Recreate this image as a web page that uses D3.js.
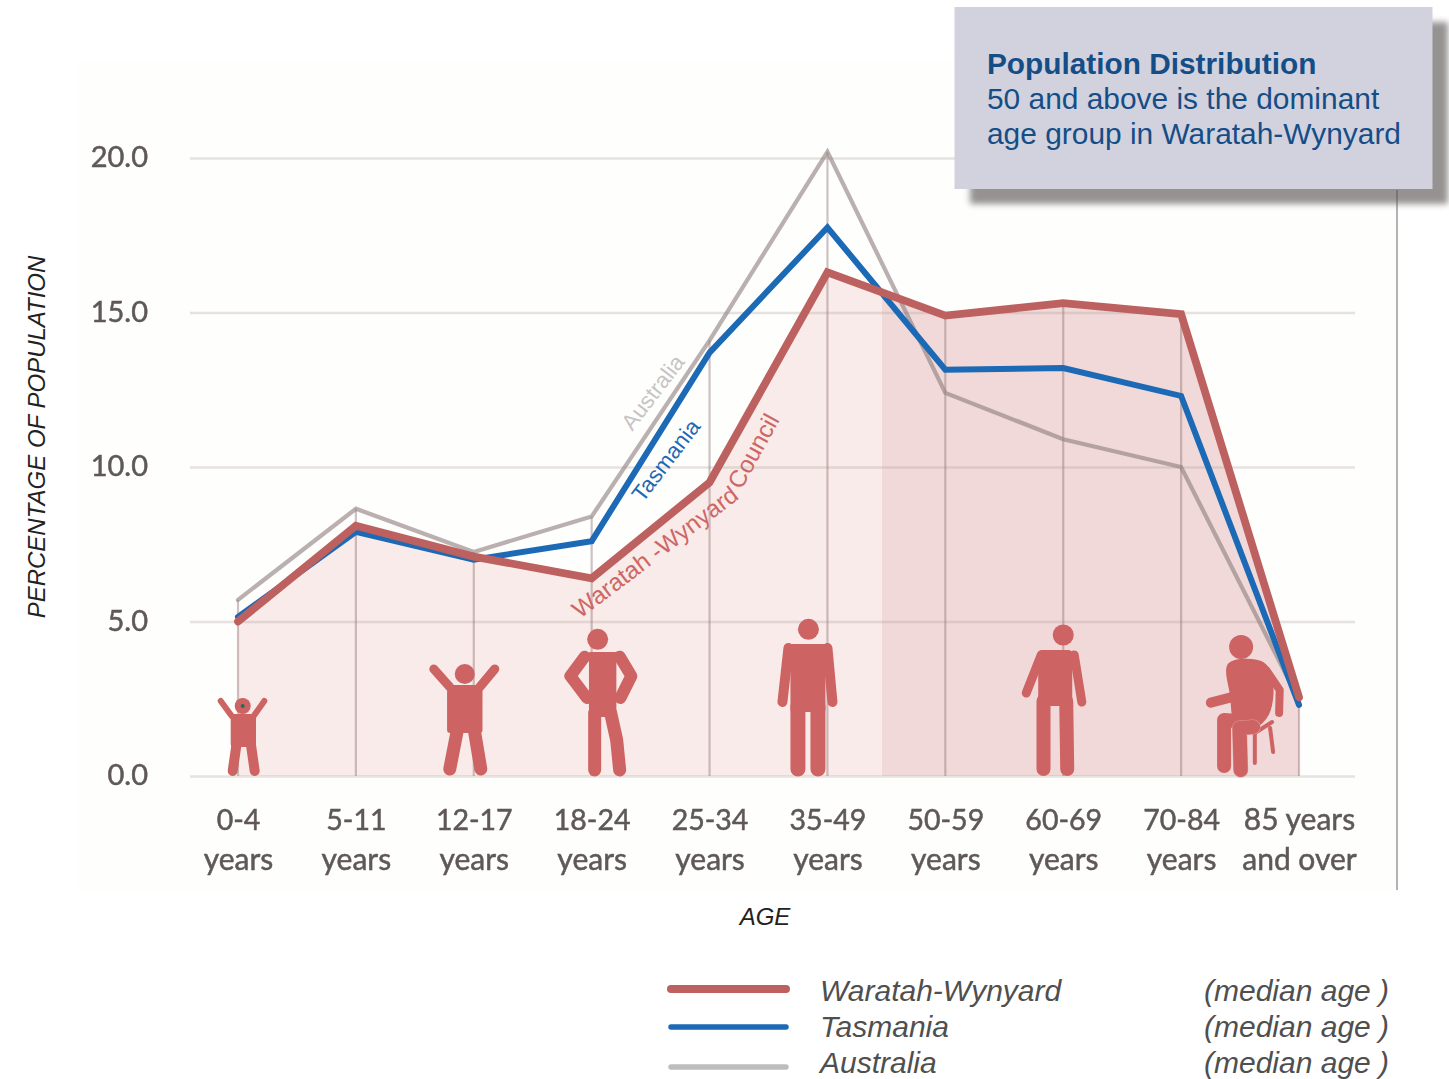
<!DOCTYPE html>
<html><head><meta charset="utf-8">
<script src="https://cdn.jsdelivr.net/npm/d3@7"></script>
<style>html,body{margin:0;padding:0;background:#fff;overflow:hidden}svg{display:block}</style>
</head><body><svg id="c" width="1449" height="1079"></svg>
<script>
const categories=["0-4|years","5-11|years","12-17|years","18-24|years","25-34|years","35-49|years","50-59|years","60-69|years","70-84|years","85 years|and over"];
const waratah=[5.0,8.1,7.1,6.4,9.5,16.3,14.9,15.3,14.95,2.55];
const tasmania=[5.15,7.9,7.0,7.6,13.7,17.75,13.15,13.2,12.3,2.3];
const australia=[5.7,8.65,7.25,8.4,14.1,20.2,12.4,10.9,10.0,2.45];
const yTicks=[0,5,10,15,20];
const legendNames=["Waratah-Wynyard","Tasmania","Australia"];
const boxLines=["Population Distribution","50 and above is the dominant","age group in Waratah-Wynyard"];

const RED="#bd6160",BLUE="#1c6ab5",ICON="#cd6362";
const svg=d3.select("#c");
const defs=svg.append("defs");
defs.append("filter").attr("id","soft").append("feGaussianBlur").attr("stdDeviation",0.55);
defs.append("filter").attr("id","shadow").attr("x","-10%").attr("y","-10%").attr("width","120%").attr("height","120%").append("feGaussianBlur").attr("stdDeviation",3.2);

const x=d3.scalePoint().domain(categories).range([238,1299]);
const y=d3.scaleLinear().domain([0,20]).range([776,158]);

svg.append("rect").attr("x",75).attr("y",60).attr("width",1322).attr("height",830).attr("fill","#fefefd");

// fills under the Waratah-Wynyard line
const area=d3.area().x((d,i)=>x(categories[i])).y0(y(0)).y1(d=>y(d));
const split=882;
defs.append("clipPath").attr("id","left").append("rect").attr("x",0).attr("y",0).attr("width",split).attr("height",1079);
defs.append("clipPath").attr("id","right").append("rect").attr("x",split).attr("y",0).attr("width",1449-split).attr("height",1079);
svg.append("path").attr("d",area(waratah)).attr("fill","#f8ebe9").attr("clip-path","url(#left)");
svg.append("path").attr("d",area(waratah)).attr("fill","#f0d9d8").attr("clip-path","url(#right)");

// y axis and horizontal grid
const gy=svg.append("g").attr("transform","translate(190,0)").call(
  d3.axisLeft(y).tickValues(yTicks).tickFormat(d3.format(".1f")).tickSize(0).tickPadding(42));
gy.select(".domain").remove();
gy.selectAll("text").attr("font-family","Lato").attr("font-size",29).attr("dy","0.3em").attr("fill","#5f5858").attr("stroke","#5f5858").attr("stroke-width",.5).attr("filter","url(#soft)");
gy.selectAll(".tick").append("line").attr("x1",0).attr("x2",1165).attr("stroke","#a89c90").attr("stroke-opacity",.28).attr("stroke-width",2.5);

// vertical drop lines
svg.append("g").attr("filter","url(#soft)").selectAll("line").data(categories).join("line")
 .attr("x1",d=>x(d)).attr("x2",d=>x(d)).attr("y1",y(0))
 .attr("y2",(d,i)=>y(Math.max(waratah[i],tasmania[i],australia[i])))
 .attr("stroke","#8f7474").attr("stroke-opacity",.44).attr("stroke-width",2.2);
svg.append("line").attr("x1",1397).attr("x2",1397).attr("y1",190).attr("y2",890).attr("stroke","#b5b2b2").attr("stroke-width",2);

// x axis
const gx=svg.append("g").attr("transform",`translate(0,${y(0)})`).call(d3.axisBottom(x).tickSize(0).tickPadding(0));
gx.select(".domain").remove();
gx.selectAll("text").each(function(d){
  const t=d3.select(this).text(null).attr("font-family","Lato").attr("fill","#5f5858").attr("stroke","#5f5858").attr("stroke-width",.5).attr("filter","url(#soft)").attr("y",0).attr("dy",0);
  d.split("|").forEach((s,i)=>t.append("tspan").attr("x",0).attr("y",i?93.5:53.5).attr("font-size",/[a-z]/.test(s)?30:28.5).text(s));
});

// lines
const line=d3.line().x((d,i)=>x(categories[i])).y(d=>y(d));
[[australia,"#8f7f7f",4.2,.62],[tasmania,BLUE,6,1],[waratah,RED,7.8,1]].forEach(([s,c,w,o])=>{
  svg.append("path").attr("d",line(s)).attr("fill","none").attr("stroke",c).attr("stroke-opacity",o).attr("stroke-width",w).attr("stroke-linecap","round").attr("stroke-linejoin","miter");
});

// in-chart labels
[["Australia",659,397,-52.5,"#c8c4c4",22.5],["Tasmania",672,465,-52.5,BLUE,22.5]].forEach(([t,a,b,r,c,f])=>{
  svg.append("text").attr("transform",`translate(${a},${b}) rotate(${r})`).attr("text-anchor","middle")
   .attr("font-family","Liberation Sans").attr("font-size",f).attr("fill",c).text(t);
});
defs.append("path").attr("id","warPath").attr("d",d3.line()([[580,619],[735,502],[782,416]]));
svg.append("text").attr("font-family","Liberation Sans").attr("font-size",24.2).attr("fill","#cf6665")
  .append("textPath").attr("href","#warPath").text("Waratah -Wynyard Council");

// people icons: anchored to a category, drawn in local units above the baseline
function limb(g,pts,w,c=ICON){g.append("path").attr("d",d3.line()(pts)).attr("fill","none").attr("stroke",c).attr("stroke-width",w).attr("stroke-linecap","round").attr("stroke-linejoin","round");}
function head(g,a,b,r){g.append("circle").attr("cx",a).attr("cy",b).attr("r",r).attr("fill",ICON);}
function body(g,a,b,c,d,r=3){g.append("rect").attr("x",a).attr("y",b).attr("width",c-a).attr("height",d-b).attr("rx",r).attr("fill",ICON);}
function icon(cat,dx,draw){draw(svg.append("g").attr("transform",`translate(${x(cat)+dx},${y(0)})`));}

icon(categories[0],4.7,g=>{
  head(g,0,-70,8);limb(g,[[-11,-60],[-22,-75]],6);limb(g,[[11,-60],[21.6,-75]],6);
  body(g,-12,-62,13.3,-29,3);limb(g,[[-6,-33],[-10,-5]],10);limb(g,[[8,-33],[12,-5]],10);
  g.append("circle").attr("cx",0).attr("cy",-70).attr("r",2).attr("fill","#1d6e6a");
});
icon(categories[2],-9,g=>{
  head(g,0,-102,10);limb(g,[[-15,-89],[-31,-107]],9);limb(g,[[15,-89],[30,-107]],9);
  body(g,-17.7,-91,17.7,-43,3);limb(g,[[-8,-43],[-15,-7]],13);limb(g,[[10,-43],[16,-7]],13);
});
icon(categories[3],6,g=>{
  head(g,0,-136.7,10.5);body(g,-8.7,-124,18.7,-59,1);
  limb(g,[[-13,-119.3],[-27.3,-100],[-10.7,-78]],12);limb(g,[[22,-119.3],[33.7,-100],[22.7,-78]],12);
  limb(g,[[-3,-63],[-3,-6]],13);limb(g,[[13,-63],[19,-36],[22,-6]],13);
});
icon(categories[5],-19,g=>{
  head(g,0,-146.7,10.5);body(g,-18,-132,17,-64,2);
  limb(g,[[-20,-128],[-26,-74]],10);limb(g,[[19,-128],[24,-74]],10);
  limb(g,[[-10.5,-70],[-10.5,-7]],15);limb(g,[[9.5,-70],[9.5,-7]],15);
});
icon(categories[7],0,g=>{
  head(g,0,-141,10.5);body(g,-25,-126,9,-70,4);
  limb(g,[[-22,-121],[-37,-83]],9);limb(g,[[11,-121],[18.6,-74]],9);
  limb(g,[[-19.7,-75],[-19.7,-7]],14);limb(g,[[3,-75],[4,-7]],14);
});
icon(categories[8],60,g=>{
  head(g,0,-129,12);
  limb(g,[[13.7,-43],[13.7,-13]],4);limb(g,[[29,-48],[32,-24]],4);limb(g,[[13.7,-43],[31,-54]],4);
  g.append("path").attr("d",d3.line().curve(d3.curveCatmullRomClosed.alpha(.5))([[-12,-112],[22,-113],[31,-92],[27,-62],[12,-48],[-5,-52],[-10,-80]])).attr("fill",ICON).attr("stroke",ICON).attr("stroke-width",2);
  limb(g,[[25,-106],[38.6,-86],[38,-63]],8);limb(g,[[-30.3,-73.3],[-7.3,-79.3]],10);
  limb(g,[[12,-54],[-17,-56],[-17,-10]],14);
  limb(g,[[12,-49],[-1.6,-48],[-0.4,-6]],15,"#e29a99");limb(g,[[12,-49],[-1.6,-48],[-0.4,-6]],14);
});

// axis titles
svg.append("text").attr("transform","translate(45,437) rotate(-90)").attr("text-anchor","middle").attr("font-family","Liberation Sans").attr("font-style","italic").attr("font-size",24).attr("fill","#222").text("PERCENTAGE OF POPULATION");
svg.append("text").attr("x",765).attr("y",925).attr("text-anchor","middle").attr("font-family","Liberation Sans").attr("font-style","italic").attr("font-size",24).attr("fill","#222").text("AGE");

// legend
const legendColors=[RED,BLUE,"#bdbdbd"],legendY=[989,1027,1067],legendW=[8,5.5,5.5],legendText=[1001,1037,1073];
legendNames.forEach((n,i)=>{
  svg.append("line").attr("x1",671).attr("x2",786).attr("y1",legendY[i]).attr("y2",legendY[i]).attr("stroke",legendColors[i]).attr("stroke-width",legendW[i]).attr("stroke-linecap","round");
  svg.append("text").attr("x",820).attr("y",legendText[i]).attr("font-family","Liberation Sans").attr("font-style","italic").attr("font-size",30).attr("fill","#4f4f4f").text(n);
  svg.append("text").attr("x",1204).attr("y",legendText[i]).attr("font-family","Liberation Sans").attr("font-style","italic").attr("font-size",30).attr("fill","#4f4f4f").text("(median age )");
});

// callout
svg.append("rect").attr("x",970).attr("y",22).attr("width",478).attr("height",182).attr("fill","#55514f").attr("opacity",.62).attr("filter","url(#shadow)");
svg.append("rect").attr("x",954.5).attr("y",7).attr("width",478).attr("height",182).attr("fill","#d2d2de");
boxLines.forEach((t,i)=>svg.append("text").attr("x",987).attr("y",[74,109,144][i]).attr("font-family","Liberation Sans").attr("font-weight",i?400:700).attr("font-size",i?29.9:29.8).attr("fill","#154d87").text(t));
</script></body></html>
